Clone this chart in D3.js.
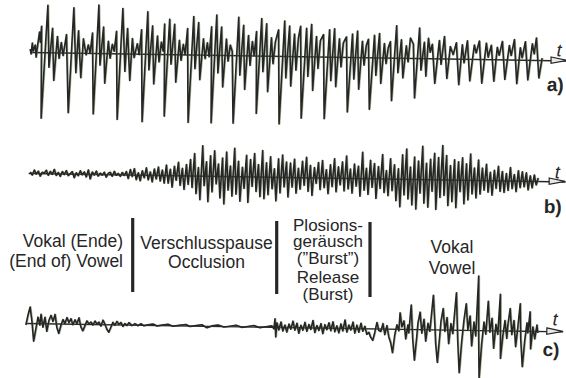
<!DOCTYPE html>
<html><head><meta charset="utf-8">
<script src="https://cdn.jsdelivr.net/npm/d3@7"></script>
<style>body{margin:0;background:#fff}svg{display:block}</style>
</head><body>
<script>
// ---- data: oscillogram turning points [time, amplitude] ----
const waveA = [
 [0,3],[1,-2],[2,9],[3,1],[5,7],[6,-5],[7,4],[9,20],[10,10],[11,26],
 [12,-66],[17,47],[19,-15],[22,24],[24,-28],[27,16],[29,-6],[31,10],[33,-3],[36,18],
 [39,-60],[43,45],[46,-20],[48,22],[51,-25],[53,14],[56,-2],[58,8],[60,0],[62,20],
 [64,-61],[68,48],[70,-12],[73,26],[75,-30],[78,12],[80,-5],[82,9],[84,2],[86,22],
 [88,-66],[92,45],[95,-18],[97,25],[100,-27],[102,15],[104,-4],[107,10],[109,-1],[111,24],
 [113,-68],[117,42],[119,-16],[122,28],[124,-30],[127,18],[129,-8],[131,12],[133,3],[134,30],
 [135,-62],[139,35],[141,-10],[144,30],[146,-28],[149,14],[151,-6],[153,10],[155,0],[157,26],
 [159,-68],[163,38],[165,-14],[168,32],[170,-25],[173,16],[175,-4],[177,12],[179,-2],[181,28],
 [182,-68],[186,40],[188,-18],[191,28],[193,-32],[196,16],[198,-6],[200,10],[202,4],
 [204,-68],[208,38],[210,-20],[213,30],[215,-34],[218,20],[220,-10],[222,14],[224,0],[226,24],
 [227,-58],[231,37],[233,-16],[236,32],[238,-36],[241,18],[243,-8],[245,14],[248,26],
 [250,-68],[254,35],[256,-22],[259,30],[261,-30],[264,22],[266,-14],[268,18],[270,30],
 [272,-62],[276,28],[278,-20],[281,32],[283,-34],[286,20],[288,-12],[290,16],[293,22],
 [295,-62],[299,27],[301,-24],[304,28],[306,-30],[309,18],[311,-10],[313,14],[316,20],
 [318,-55],[322,23],[324,-22],[327,26],[329,-32],[332,16],[334,-8],[336,12],[338,18],
 [340,-52],[344,22],[346,-18],[349,24],[351,-26],[354,14],[356,-6],[358,10],[360,16],
 [362,-43],[366,32],[368,-15],[371,18],[373,-20],[376,12],[378,-4],[380,20],[383,14],
 [385,-40],[389,30],[391,-12],[394,16],[396,-18],[398,20],[400,6],[402,14],
 [405,-25],[409,18],[411,-6],[414,22],[417,-20],[420,12],[423,4],[426,16],[429,-26],[432,14],
 [434,-4],[437,18],[440,-22],[444,14],[446,6],[449,18],[452,-24],[456,16],[458,2],[461,14],
 [464,-22],[467,12],[469,4],[472,18],[475,-20],[479,14],[481,4],[484,20],[487,-24],[490,12],
 [492,2],[495,18],[498,-20],[502,16],[504,6],[506,22],[509,-18],[512,2]
];
// waveform b: uniformly sampled values
const waveBStart = 2, waveBStep = 2;
const waveB = [
 1,-2,3,-1,2,-3,1,0,3,-2,2,-1,4,-2,1,-3,2,-1,3,-2,0,2,-4,1,-2,3,-1,2,-3,4,-5,2,-1,3,-2,1,-1,2,-3,1,2,-2,3,-1,1,-2,2,-1,
 3,-4,5,-2,6,-5,2,-6,4,-3,7,-5,3,-7,6,-4,8,-6,5,-8,
 10,-8,6,-12,9,-5,13,-10,7,-14,11,-9,
 16,-12,22,-18,8,-24,30,-10,14,-26,20,-16,25,-8,12,-22,18,-28,24,-14,10,-20,28,-18,15,-25,9,-12,21,-26,17,-10,23,-15,12,-20,26,-22,14,-18,20,-12,8,-24,18,-16,22,-10,15,-20,
 14,-10,18,-16,9,-12,16,-8,20,-14,12,-18,10,-6,15,-12,17,-10,8,-16,13,-9,19,-14,11,-7,16,-13,22,-11,9,-15,14,-8,12,-18,26,-12,10,-16,18,-9,15,-20,12,-10,24,-14,8,-17,20,-12,14,-22,10,
 -28,24,-16,30,-20,12,-26,22,-30,18,-14,33,-24,16,-28,20,-12,26,-30,22,-18,34,-16,24,-26,14,-22,20,-28,18,-12,22,-24,16,-20,26,-14,12,-18,20,
 -14,12,-10,16,-12,8,-15,10,-8,14,-11,9,-12,7,-10,13,-8,6,-11,10,-7,9,-6,8,-9,5,-7,6,-4,3
];
const waveC = [
 [0,-2],[2,8],[4,16],[6,2],[8,-18],[10,-6],[12,6],[14,-2],[15,9],[17,-4],[19,6],[21,-8],[23,3],[25,8],[27,2],[29,9],
 [31,-4],[33,-10],[35,-2],[37,4],[39,0],[41,6],[43,1],[45,5],[47,-1],[49,4],[51,0],[53,6],[55,-3],[57,-7],[59,-2],
 [61,3],[63,0],[65,2],[67,-1],[69,3],[71,0],[73,2],[75,-2],[77,4],[79,0],[81,-5],[83,-8],[85,-3],[87,2],[89,-1],
 [91,3],[93,0],[95,2],[97,-2],[99,1],[101,-1],[103,2],[106,-1],[109,1],[112,-1],[115,1],[118,-1],[122,0],[127,1],
 [131,-1],[136,0],[142,1],[147,-1],[153,0],[160,1],[164,-1],[170,0],[176,1],[181,-2],[186,0],[192,1],[198,-1],
 [204,0],[210,1],[216,-1],[222,0],[228,1],[234,-1],[240,0],[246,1],
 [248,-2],[249,8],[250,-10],[251,4],[253,-3],[255,5],[257,-4],[259,2],[261,-5],[263,3],[265,-2],[267,6],[269,-3],
 [271,4],[273,-6],[275,2],[277,-3],[279,5],[281,-4],[283,3],[285,-2],[287,7],[289,-5],[291,2],[293,-3],[295,4],
 [297,-6],[299,3],[301,-2],[303,5],[305,-3],[307,6],[309,-4],[311,2],[313,-5],[315,4],[317,-3],[319,8],[321,-4],
 [323,3],[325,-2],[327,6],[329,-5],[331,3],[333,-4],[335,5],[337,-3],[339,2],[341,-6],[343,-4],[345,-9],[347,-12],
 [349,-4],[351,6],[353,-2],
 [355,-3],[357,5],[359,-6],[361,3],[363,-8],[365,-14],[367,-24],[369,-6],[371,4],[373,-2],[374,16],[376,2],[378,8],
 [380,-10],[382,4],[383,-4],[385,24],[387,-10],[389,-31],[391,-8],[392,6],[394,17],[396,-4],[398,10],[400,-12],
 [402,6],[404,-2],[407,34],[409,4],[410,-14],[412,-33],[414,-6],[415,8],[417,21],[419,-2],[421,12],[423,-14],
 [425,6],[427,-4],[430,37],[432,-10],[434,-43],[436,-12],[438,10],[440,26],[442,0],[444,14],[446,-16],[448,8],
 [450,-6],[452,54],[453,-10],[454,-48],[456,-14],[458,8],[460,-4],[462,29],[464,-2],[466,12],[468,-18],[470,6],
 [472,-4],[474,36],[475,-28],[477,-6],[479,10],[481,-8],[482,6],[484,22],[486,-4],[488,10],[490,-16],[492,4],
 [494,27],[495,-8],[497,-36],[499,-10],[501,8],[502,-2],[504,19],[505,-18],[507,4],[509,-8],[511,6],[512,-2]
];
const panelNames = ["a)", "b)", "c)"];
const axisSymbol = "t";
const phaseLeft = ["Vokal (Ende)", "(End of) Vowel"];
const phaseOcclusion = ["Verschlusspause", "Occlusion"];
const phaseBurst = ["Plosions-", "geräusch", "(\u201dBurst\u201d)", "Release", "(Burst)"];
const phaseVowel = ["Vokal", "Vowel"];

// ---- drawing ----
const W = 566, H = 378;
const ink = "#262626";
const svg = d3.select("body").append("svg").attr("width", W).attr("height", H)
  .style("font-family", "'Liberation Sans', Arial, sans-serif");

const x = d3.scaleLinear().domain([0, 537]).range([28, 565]);
const tilt = svg.append("g").attr("transform", "rotate(0.9,296,189)");

const panels = [
  {name: panelNames[0], y0: 56.2, data: waveA, tY: -4, nY: 31},
  {name: panelNames[1], y0: 177.2, data: waveB.map((v, i) => [waveBStart + i * waveBStep, v]), tY: -3, nY: 32},
  {name: panelNames[2], y0: 327.2, data: waveC, tY: -6, nY: 25}
];

panels.forEach(p => {
  const y = d3.scaleLinear().domain([-70, 60]).range([p.y0 + 70, p.y0 - 60]);
  const g = tilt.append("g");
  const ax = g.append("g").attr("transform", `translate(0,${y(0)})`)
    .call(d3.axisBottom(x).tickValues([]).tickSizeOuter(0));
  ax.select(".domain").attr("stroke", ink).attr("stroke-width", 1.4);
  const xe = x.range()[1];
  g.append("path")
    .attr("d", `M${xe - 16},${y(0) - 3.2}L${xe},${y(0)}L${xe - 16},${y(0) + 3.2}Z`)
    .attr("fill", "#e8e8e8").attr("stroke", ink).attr("stroke-width", 1.2);
  const line = d3.line().x(d => x(d[0])).y(d => y(d[1]));
  g.append("path").datum(p.data).attr("d", line)
    .attr("transform", "translate(0.8,0)")
    .attr("fill", "none").attr("stroke", "#6d8a55").attr("stroke-width", 1.4)
    .attr("stroke-linejoin", "round").attr("opacity", 0.6);
  g.append("path").datum(p.data).attr("d", line)
    .attr("fill", "none").attr("stroke", ink).attr("stroke-width", 1.6)
    .attr("stroke-linejoin", "round");
  g.append("text").attr("x", 557).attr("y", y(0) + p.tY)
    .attr("text-anchor", "middle").attr("font-style", "italic")
    .attr("font-size", 18).attr("fill", ink).text(axisSymbol);
  g.append("text").attr("x", 562).attr("y", y(0) + p.nY)
    .attr("text-anchor", "end").attr("font-weight", "bold")
    .attr("font-size", 19).attr("fill", ink).text(p.name);
});

const lab = svg.append("g").attr("fill", ink).attr("font-size", 17.5);
function lines(arr, xx, ys, anchor, fs) {
  arr.forEach((s, i) => lab.append("text").attr("x", xx).attr("y", ys[i])
    .attr("text-anchor", anchor).attr("font-size", fs || 17.5).text(s));
}
lines(phaseLeft, 123, [247, 266.5], "end");
lines(phaseOcclusion, 206.5, [249, 268], "middle");
lines(phaseBurst, 328, [231, 247, 263.5, 283, 299.5], "middle", 17);
lines(phaseVowel, 452, [253, 274], "middle");

[[132.7, 218, 292], [276.7, 221, 294], [370, 222, 297]].forEach(b => {
  lab.append("line").attr("x1", b[0]).attr("x2", b[0]).attr("y1", b[1]).attr("y2", b[2])
    .attr("stroke", ink).attr("stroke-width", 3.2);
});
</script>
</body></html>
